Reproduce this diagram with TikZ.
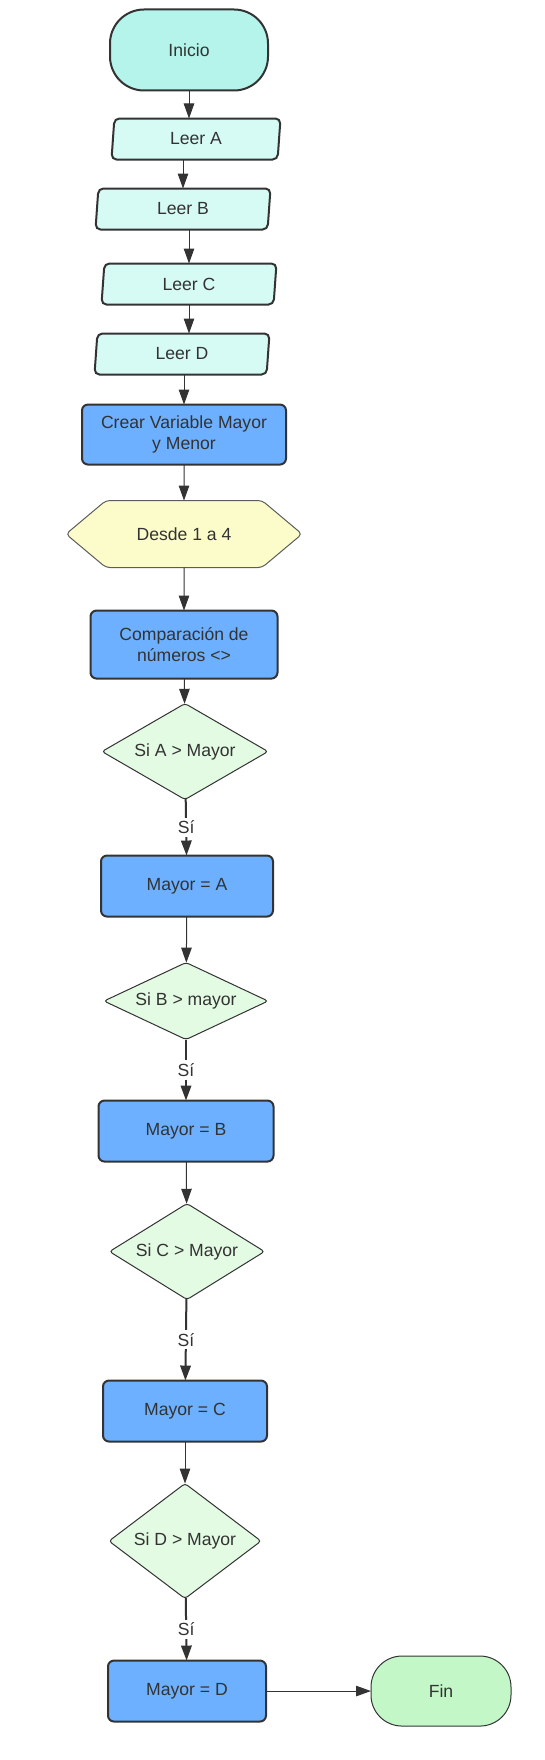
\documentclass[tikz,border=0pt]{standalone}
\usepackage{fontspec}
\setmainfont{Liberation Sans}
\usepackage{tikz}
\usetikzlibrary{positioning,arrows.meta,shapes.geometric,shapes.symbols}
\definecolor{inkc}{HTML}{333333}
\definecolor{startc}{HTML}{B4F4EB}
\definecolor{readc}{HTML}{D6FAF4}
\definecolor{procc}{HTML}{6CB0FF}
\definecolor{loopc}{HTML}{FCFCCB}
\definecolor{decc}{HTML}{E3FAE3}
\definecolor{endc}{HTML}{C3F7C8}
\tikzset{
  line/.style={-{Triangle[length=15pt,width=10.5pt]}, line width=1pt, draw=inkc},
  yesline/.style={line, line width=2pt},
  box/.style={draw=inkc, line width=2pt, outer sep=0pt, align=center, text=inkc, inner sep=3pt, font=\fontsize{17.6}{21.7}\selectfont},
  termbox/.style={box, rounded corners=34pt},
  readbox/.style={box, trapezium, trapezium left angle=81, trapezium right angle=99, trapezium stretches body, rounded corners=5pt, fill=readc, minimum width=175pt, minimum height=41pt},
  procbox/.style={box, rounded corners=6pt, fill=procc, minimum height=61pt},
  decbox/.style={box, diamond, line width=1pt, rounded corners=3pt, fill=decc, inner sep=0pt},
  loopbox/.style={box, signal, signal to=east and west, signal pointer angle=80, line width=1pt, draw=inkc!80, rounded corners=4pt, fill=loopc, minimum width=236pt, minimum height=67pt},
  yeslbl/.style={fill=white, text=inkc, inner sep=3pt, font=\fontsize{17.6}{21.7}\selectfont}
}
\begin{document}
\begin{tikzpicture}[x=1pt, y=1pt]
  \useasboundingbox (0,0) rectangle (544,-1760);
  \node[termbox, fill=startc, minimum width=158pt, minimum height=81pt] (inicio) at (189,-50) {Inicio};
  \node[readbox, minimum width=169pt, below=28pt of inicio, xshift=7pt] (leerA) {Leer A};
  \node[readbox, below=29pt of leerA, xshift=-13pt] (leerB) {Leer B};
  \node[readbox, below=34pt of leerB, xshift=6pt] (leerC) {Leer C};
  \node[readbox, below=29pt of leerC, xshift=-7pt] (leerD) {Leer D};
  \node[procbox, minimum width=204pt, minimum height=60pt, below=30pt of leerD, xshift=2pt] (crear) {Crear Variable Mayor\\y Menor};
  \node[loopbox, below=36pt of crear] (desde) {Desde 1 a 4};
  \node[procbox, minimum width=187pt, minimum height=68pt, below=43pt of desde] (comp) {Comparación de\\números <>};
  \node[decbox, aspect=1.73, minimum width=166pt, minimum height=96pt, below=25pt of comp, xshift=1pt] (siA) {Si A > Mayor};
  \node[procbox, minimum width=172pt, below=56pt of siA, xshift=2pt] (mayA) {Mayor = A};
  \node[decbox, aspect=2.13, minimum width=164pt, minimum height=77pt, below=46pt of mayA, xshift=-1pt] (siB) {Si B > mayor};
  \node[procbox, minimum width=175pt, below=61pt of siB] (mayB) {Mayor = B};
  \node[decbox, aspect=1.61, minimum width=155pt, minimum height=96pt, below=42pt of mayB, xshift=1pt] (siC) {Si C > Mayor};
  \node[procbox, minimum width=164pt, below=81pt of siC, xshift=-2pt] (mayC) {Mayor = C};
  \node[decbox, aspect=1.32, minimum width=152pt, minimum height=115pt, below=42pt of mayC] (siD) {Si D > Mayor};
  \node[procbox, minimum width=158pt, below=62pt of siD, xshift=2pt] (mayD) {Mayor = D};
  \node[termbox, line width=1pt, rounded corners=31pt, fill=endc, minimum width=140pt, minimum height=70pt, right=105pt of mayD] (fin) {Fin};
  \draw[line] (inicio.south) -- (inicio.south |- leerA.north);
  \draw[line] (leerB.north |- leerA.south) -- (leerB.north);
  \draw[line] (leerC.north |- leerB.south) -- (leerC.north);
  \draw[line] (leerC.south) -- (leerC.south |- leerD.north);
  \draw[line] (crear.north |- leerD.south) -- (crear.north);
  \draw[line] (crear) -- (desde);
  \draw[line] (desde) -- (comp);
  \draw[line] (comp) -- (siA);
  \draw[yesline] (siA) -- node[yeslbl]{Sí} (mayA);
  \draw[line] (mayA) -- (siB);
  \draw[yesline] (siB) -- node[yeslbl]{Sí} (mayB);
  \draw[line] (mayB) -- (siC);
  \draw[yesline] (siC) -- node[yeslbl]{Sí} (mayC);
  \draw[line] (mayC) -- (siD);
  \draw[yesline] (siD) -- node[yeslbl]{Sí} (mayD);
  \draw[line] (mayD) -- (fin);
\end{tikzpicture}
\end{document}
